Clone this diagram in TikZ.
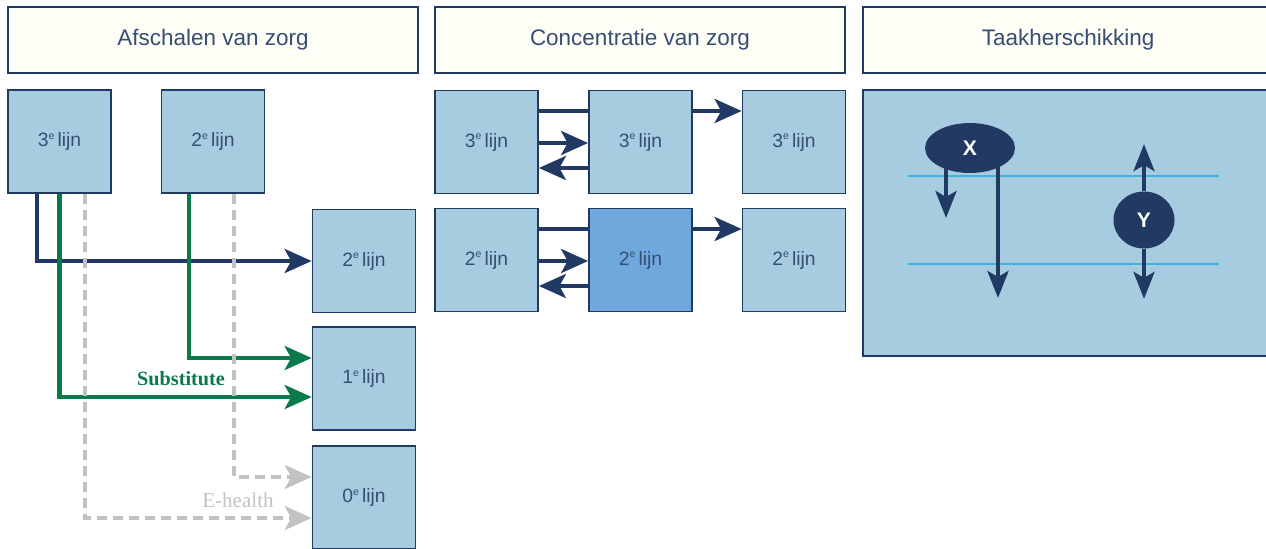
\documentclass[tikz,border=0pt]{standalone}
\usepackage{fontspec}
\setmainfont{Liberation Sans}
\newfontfamily\labelfont{Liberation Serif}
\usetikzlibrary{arrows.meta,calc,shapes.geometric}

\definecolor{navy}{HTML}{213A64}
\definecolor{lichtblauw}{HTML}{A7CCE0}
\definecolor{middenblauw}{HTML}{6FA8DC}
\definecolor{kopkleur}{HTML}{FEFEF6}
\definecolor{groen}{HTML}{0B7A4B}
\definecolor{grijs}{HTML}{C2C2C2}
\definecolor{cyaan}{HTML}{3DB1E0}

\newcommand{\lijn}[1]{#1\raisebox{0.7ex}{\fontsize{6}{6}\selectfont e}\,lijn}

\begin{document}
\begin{tikzpicture}[x=0.02cm, y=-0.02cm,
    kopbox/.style={draw=navy, line width=1pt, fill=kopkleur, minimum width=8.2cm, minimum height=1.32cm, text=navy!90, font=\fontsize{12.8}{15}\selectfont},
    lijnbox/.style={draw=navy, line width=1pt, fill=lichtblauw, minimum width=2.06cm, minimum height=2.06cm, text=navy!90, font=\fontsize{11}{13}\selectfont},
    tip/.style={-{Stealth[length=0.54cm, width=0.48cm, inset=0.13cm]}},
    navypijl/.style={tip, draw=navy, line width=2.4pt},
    groenpijl/.style={tip, draw=groen, line width=2.4pt},
    grijspijl/.style={tip, draw=grijs, line width=1.8pt, dash pattern=on 0.2cm off 0.12cm},
    taakpijl/.style={-{Stealth[length=0.54cm, width=0.42cm, inset=0.12cm]}, draw=navy, line width=2.3pt},
    bol/.style={ellipse, fill=navy, text=white, font=\fontsize{12}{14}\selectfont\bfseries, inner sep=0pt}
]
    \useasboundingbox (0,0) rectangle (1266,548);

    % Afschalen van zorg
    \node[kopbox] (hA) at (213,40) {Afschalen van zorg};
    \node[lijnbox] (l3) at (59.5,141.5) {\lijn{3}};
    \node[lijnbox] (l2) at (213,141.5) {\lijn{2}};
    \node[lijnbox] (r2) at (364,261) {\lijn{2}};
    \node[lijnbox] (r1) at (364,378.5) {\lijn{1}};
    \node[lijnbox] (r0) at (364,497.5) {\lijn{0}};
    \draw[navypijl] ($(l3.south)+(-22.5,0)$) |- (r2.west);
    \draw[groenpijl] ($(l2.south)+(-24,0)$) |- ($(r1.west)+(0,-20.5)$);
    \draw[groenpijl] (l3.south) |- ($(r1.west)+(0,18.5)$);
    \draw[grijspijl] ($(l2.south)+(21,0)$) |- ($(r0.west)+(0,-20.5)$);
    \draw[grijspijl] ($(l3.south)+(25.5,0)$) |- ($(r0.west)+(0,20.5)$);
    \node[text=groen, font=\labelfont\fontsize{11.5}{13}\selectfont\bfseries] (sub) at (181,379) {Substitute};
    \node[text=grijs, font=\labelfont\fontsize{12}{14}\selectfont] (eh) at (238,500) {E-health};

    % Concentratie van zorg
    \node[kopbox] (hB) at (640,40) {Concentratie van zorg};
    \node[lijnbox] (c31) at (486.5,142) {\lijn{3}};
    \node[lijnbox] (c32) at (640.5,142) {\lijn{3}};
    \node[lijnbox] (c33) at (794,142) {\lijn{3}};
    \node[lijnbox] (c21) at (486.5,260) {\lijn{2}};
    \node[lijnbox, fill=middenblauw] (c22) at (640.5,260) {\lijn{2}};
    \node[lijnbox] (c23) at (794,260) {\lijn{2}};
    \foreach \a/\b/\c in {c31/c32/c33, c21/c22/c23} {
        \draw[navy, line width=2.4pt] ($(\a.east)+(0,-31)$) -- ($(\b.west)+(0,-31)$);
        \draw[navypijl] ($(\b.east)+(0,-31)$) -- ($(\c.west)+(0,-31)$);
        \draw[navypijl] ($(\a.east)+(0,1)$) -- ($(\b.west)+(0,1)$);
        \draw[navypijl] ($(\b.west)+(0,26)$) -- ($(\a.east)+(0,26)$);
    }

    % Taakherschikking
    \node[kopbox] (hC) at (1068,40) {Taakherschikking};
    \node[draw=navy, line width=1pt, fill=lichtblauw, minimum width=8.1cm, minimum height=5.32cm] (taak) at (1065.5,223) {};
    \draw[cyaan, line width=0.8pt] (908,176) -- (1219,176);
    \draw[cyaan, line width=0.8pt] (908,264) -- (1219,264);
    \node[bol, minimum width=1.8cm, minimum height=1cm] (X) at (970,148) {X};
    \node[bol, minimum width=1.22cm, minimum height=1.14cm] (Y) at (1144,220) {Y};
    \draw[taakpijl] ($(X.center)+(-24,15)$) -- ($(X.center)+(-24,70)$);
    \draw[taakpijl] ($(X.center)+(28,15)$) -- ($(X.center)+(28,150)$);
    \draw[taakpijl] (Y.north) -- ++(0,-47);
    \draw[taakpijl] (Y.south) -- ++(0,50);
\end{tikzpicture}
\end{document}
